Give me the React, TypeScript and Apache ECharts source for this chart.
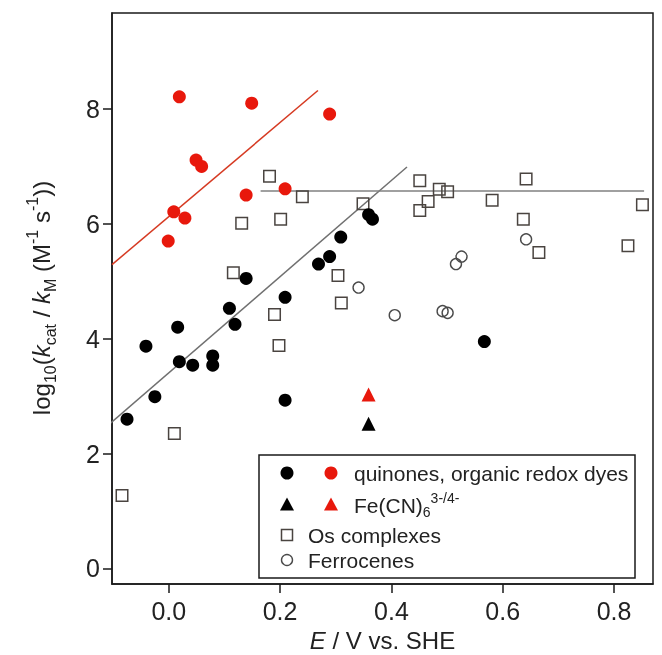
import React, { useEffect, useRef } from "react";
import * as echarts from "echarts";

// ---- data ----
const quinonesBlack: number[][] = [
  [-0.075, 2.6], [-0.041, 3.87], [-0.025, 2.99], [0.016, 4.2], [0.019, 3.6],
  [0.043, 3.54], [0.079, 3.7], [0.079, 3.54], [0.109, 4.53], [0.119, 4.25],
  [0.139, 5.05], [0.209, 4.72], [0.209, 2.93], [0.269, 5.3], [0.289, 5.43],
  [0.309, 5.77], [0.359, 6.16], [0.366, 6.08], [0.567, 3.95],
];
const quinonesRed: number[][] = [
  [0.019, 8.21], [0.149, 8.1], [0.289, 7.91], [0.049, 7.11], [0.059, 7.0],
  [0.139, 6.5], [0.209, 6.61], [0.009, 6.21], [0.029, 6.1], [-0.001, 5.7],
];
const ferricyanideBlack: number[][] = [[0.359, 2.52]];
const ferricyanideRed: number[][] = [[0.359, 3.03]];
const osComplexes: number[][] = [
  [-0.084, 1.27], [0.01, 2.35], [0.116, 5.15], [0.131, 6.01], [0.181, 6.83],
  [0.201, 6.08], [0.19, 4.42], [0.198, 3.88], [0.24, 6.47], [0.304, 5.1],
  [0.31, 4.62], [0.349, 6.35], [0.451, 6.75], [0.486, 6.6], [0.501, 6.56],
  [0.466, 6.39], [0.451, 6.23], [0.581, 6.41], [0.642, 6.78], [0.637, 6.08],
  [0.665, 5.5], [0.851, 6.33], [0.825, 5.62],
];
const ferrocenes: number[][] = [
  [0.642, 5.73], [0.526, 5.43], [0.516, 5.3], [0.341, 4.89], [0.406, 4.41],
  [0.492, 4.48], [0.501, 4.45],
];
const redFit: number[][] = [[-0.102, 5.29], [0.268, 8.32]];
const blackFit: number[][] = [[-0.113, 2.46], [0.428, 6.99]];
const osFit: number[][] = [[0.165, 6.57], [0.854, 6.57]];

const xTicks = [0, 0.2, 0.4, 0.6, 0.8];
const yTicks = [0, 2, 4, 6, 8];

const FONT = "'Liberation Sans', Arial, Helvetica, sans-serif";

export default function App() {
  const ref = useRef<HTMLDivElement>(null);
  useEffect(() => {
    if (!ref.current) return;
    const chart = echarts.init(ref.current, null, { renderer: "svg" });
    const scatter = (data: number[][], symbol: string, size: number, itemStyle: any) => ({
      type: "scatter",
      data,
      symbol,
      symbolSize: size,
      itemStyle: { opacity: 1, ...itemStyle },
      silent: true,
      z: 3,
    });
    const fit = (data: number[][], color: string) => ({
      type: "line",
      data,
      symbol: "none",
      clip: false,
      silent: true,
      lineStyle: { color, width: 1.5 },
      z: 2,
    });
    const axisLineStyle = { color: "#1a1a1a", width: 1.5 };
    const option: any = {
      animation: false,
      grid: {
        left: 112, right: 9, top: 13, bottom: 71,
        show: true, borderColor: "#1a1a1a", borderWidth: 1.5,
      },
      xAxis: {
        type: "value", min: -0.102, max: 0.87,
        splitLine: { show: false },
        axisLine: { show: true, onZero: false, lineStyle: axisLineStyle },
        axisTick: { show: true, inside: false, customValues: xTicks, length: 9, lineStyle: axisLineStyle },
        axisLabel: {
          customValues: xTicks, margin: 14, fontSize: 25, color: "#222", fontFamily: FONT,
          formatter: (v: number) => v.toFixed(1),
        },
      },
      yAxis: {
        type: "value", min: -0.27, max: 9.67,
        splitLine: { show: false },
        axisLine: { show: true, onZero: false, lineStyle: axisLineStyle },
        axisTick: { show: true, inside: false, customValues: yTicks, length: 9, lineStyle: axisLineStyle },
        axisLabel: {
          customValues: yTicks, margin: 12, fontSize: 25, color: "#222", fontFamily: FONT,
          formatter: (v: number) => String(v),
        },
      },
      series: [
        fit(redFit, "#d63a22"),
        fit(blackFit, "#707070"),
        fit(osFit, "#808080"),
        scatter(osComplexes, "rect", 11.5, { color: "rgba(0,0,0,0)", borderColor: "#4a4440", borderWidth: 1.5 }),
        scatter(ferrocenes, "circle", 11, { color: "rgba(0,0,0,0)", borderColor: "#4a4a4a", borderWidth: 1.4 }),
        scatter(quinonesBlack, "circle", 13, { color: "#000" }),
        scatter(quinonesRed, "circle", 13, { color: "#e8180c" }),
        scatter(ferricyanideBlack, "triangle", 14, { color: "#000" }),
        scatter(ferricyanideRed, "triangle", 14, { color: "#e8180c" }),
      ],
      graphic: [
        {
          type: "text", x: 41, y: 298, rotation: Math.PI / 2, silent: true,
          style: {
            text: "{m|log}{sub|10}{m|(}{mi|k}{sub|cat}{m| / }{mi|k}{sub|M}{m| (M}{sup|-1}{m| s}{sup|-1}{m|))}",
            align: "center", verticalAlign: "middle", fill: "#222",
            rich: {
              m: { fontSize: 24, fontFamily: FONT, lineHeight: 34, verticalAlign: "middle", fill: "#222" },
              mi: { fontSize: 24, fontFamily: FONT, fontStyle: "italic", lineHeight: 34, verticalAlign: "middle", fill: "#222" },
              sub: { fontSize: 16, fontFamily: FONT, lineHeight: 16, verticalAlign: "bottom", fill: "#222" },
              sup: { fontSize: 16, fontFamily: FONT, lineHeight: 16, verticalAlign: "top", fill: "#222" },
            },
          },
        },
        {
          type: "text", x: 382.5, y: 640, silent: true,
          style: {
            text: "{i|E}{m| / V vs. SHE}", align: "center", verticalAlign: "middle",
            rich: {
              i: { fontSize: 24, fontFamily: FONT, fontStyle: "italic", fill: "#222", lineHeight: 26 },
              m: { fontSize: 24, fontFamily: FONT, fill: "#222", lineHeight: 26 },
            },
          },
        },
        {
          type: "group", silent: true,
          children: [
            { type: "rect", shape: { x: 259, y: 455, width: 376, height: 123 }, style: { fill: "#fff", stroke: "#1a1a1a", lineWidth: 1.5 } },
            { type: "circle", shape: { cx: 287, cy: 473, r: 6.5 }, style: { fill: "#000" } },
            { type: "circle", shape: { cx: 331, cy: 473, r: 6.5 }, style: { fill: "#e8180c" } },
            { type: "polygon", shape: { points: [[287, 497.5], [280, 510.5], [294, 510.5]] }, style: { fill: "#000" } },
            { type: "polygon", shape: { points: [[331, 497.5], [324, 510.5], [338, 510.5]] }, style: { fill: "#e8180c" } },
            { type: "rect", shape: { x: 281.5, y: 529.5, width: 11, height: 11 }, style: { fill: "none", stroke: "#4a4440", lineWidth: 1.5 } },
            { type: "circle", shape: { cx: 287, cy: 560, r: 5.5 }, style: { fill: "none", stroke: "#4a4a4a", lineWidth: 1.4 } },
            { type: "text", x: 354, y: 473, style: { text: "quinones, organic redox dyes", font: `21px ${FONT}`, fill: "#222", verticalAlign: "middle" } },
            {
              type: "text", x: 354, y: 505,
              style: {
                text: "{m|Fe(CN)}{sub|6}{sup|3-/4-}", verticalAlign: "middle",
                rich: {
                  m: { fontSize: 21, fontFamily: FONT, lineHeight: 28, verticalAlign: "middle", fill: "#222" },
                  sub: { fontSize: 14, fontFamily: FONT, lineHeight: 14, verticalAlign: "bottom", fill: "#222" },
                  sup: { fontSize: 14, fontFamily: FONT, lineHeight: 14, verticalAlign: "top", fill: "#222" },
                },
              },
            },
            { type: "text", x: 308, y: 535, style: { text: "Os complexes", font: `21px ${FONT}`, fill: "#222", verticalAlign: "middle" } },
            { type: "text", x: 308, y: 560, style: { text: "Ferrocenes", font: `21px ${FONT}`, fill: "#222", verticalAlign: "middle" } },
          ],
        },
      ],
    };
    chart.setOption(option);
    return () => chart.dispose();
  }, []);
  return <div ref={ref} style={{ position: "fixed", left: 0, top: 0, width: 662, height: 655 }} />;
}
